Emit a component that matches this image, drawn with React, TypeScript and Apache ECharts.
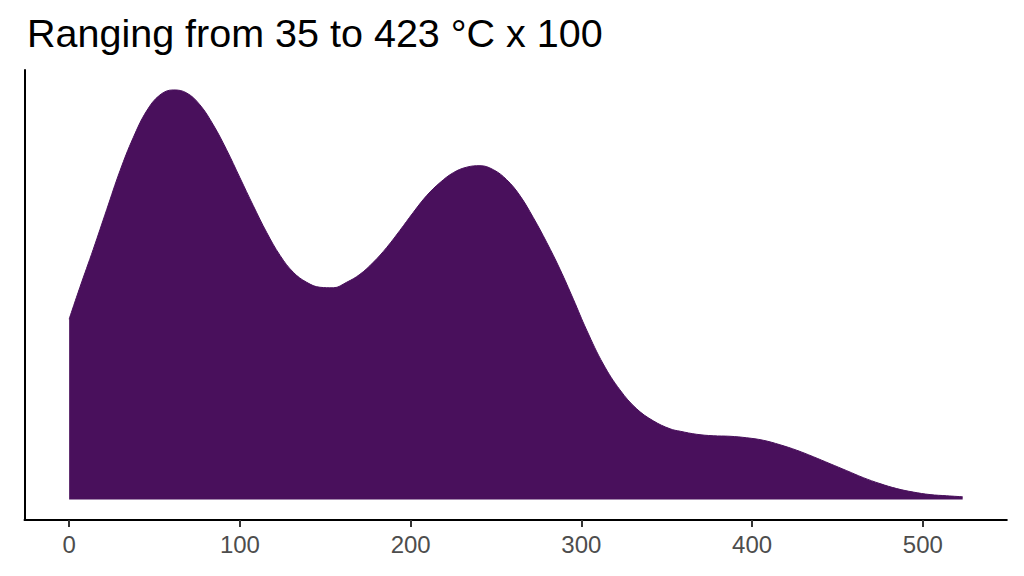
import React, { useEffect, useRef } from "react";
import * as echarts from "echarts";

const titleText = "Ranging from 35 to 423 °C x 100";
const xValues = [
  0, 6.3, 14.1, 22, 29.8, 37.5, 45.4, 53.2, 61, 68.8, 76.6, 84.4, 92.2, 100,
  107.8, 115.7, 123.5, 131.3, 139.1, 146.9, 154.7, 162.5, 170.3, 178.1, 186,
  193.7, 201.5, 209.4, 217.2, 225, 232.8, 240.6, 248.4, 256.2, 264, 271.8,
  279.7, 287.5, 295.3, 303.1, 312.8, 322.6, 332.4, 342.1, 351.9, 358, 367.5,
  377.2, 387, 396.8, 406.5, 416.3, 426.1, 435.8, 445.6, 455.4, 465.1, 474.9,
  484.7, 494.4, 504.2, 513.9, 523.3,
];
const densityValues = [
  1.81, 2.13, 2.51, 2.91, 3.3, 3.63, 3.9, 4.06, 4.11, 4.08, 3.96, 3.76, 3.51,
  3.23, 2.95, 2.68, 2.45, 2.28, 2.18, 2.13, 2.125, 2.18, 2.26, 2.38, 2.53, 2.7,
  2.88, 3.05, 3.18, 3.28, 3.335, 3.35, 3.31, 3.21, 3.05, 2.83, 2.58, 2.31,
  2.01, 1.7, 1.36, 1.1, 0.91, 0.79, 0.71, 0.685, 0.655, 0.64, 0.635, 0.62,
  0.595, 0.55, 0.495, 0.43, 0.36, 0.29, 0.22, 0.16, 0.11, 0.075, 0.05, 0.038,
  0.028,
];
const tickValues = [0, 100, 200, 300, 400, 500];

const FILL = "#49105c";
const FONT = "Liberation Sans, Arial, sans-serif";

export default function App() {
  const ref = useRef<HTMLDivElement>(null);
  useEffect(() => {
    if (!ref.current) return;
    const chart = echarts.init(ref.current, undefined, { renderer: "svg" });
    const data = xValues.map((x, i) => [x, densityValues[i]]);
    chart.setOption({
      animation: false,
      backgroundColor: "#ffffff",
      title: {
        text: titleText,
        left: 22,
        top: 8,
        textStyle: {
          fontFamily: FONT,
          fontSize: 39.5,
          fontWeight: "normal",
          color: "#000000",
        },
      },
      grid: { left: 24.5, right: 17.2, top: 70, bottom: 56 },
      xAxis: {
        type: "value",
        min: -26.15,
        max: 549.15,
        axisLine: {
          show: true,
          onZero: false,
          lineStyle: { color: "#000000", width: 2 },
        },
        axisTick: {
          show: true,
          length: 7,
          customValues: tickValues,
          lineStyle: { color: "#333333", width: 2 },
        },
        axisLabel: {
          show: true,
          customValues: tickValues,
          margin: 12,
          fontFamily: FONT,
          fontSize: 24,
          color: "#4d4d4d",
        },
        splitLine: { show: false },
      },
      yAxis: {
        type: "value",
        min: -0.205,
        max: 4.31,
        axisLine: {
          show: true,
          onZero: false,
          lineStyle: { color: "#000000", width: 2 },
        },
        axisTick: { show: false },
        axisLabel: { show: false },
        splitLine: { show: false },
      },
      series: [
        {
          type: "line",
          data,
          smooth: 0.4,
          showSymbol: false,
          lineStyle: { color: FILL, width: 1 },
          areaStyle: { color: FILL, opacity: 1, origin: 0 },
          itemStyle: { color: FILL },
        },
      ],
    });
    return () => chart.dispose();
  }, []);
  return (
    <div
      ref={ref}
      style={{ position: "fixed", left: 0, top: 0, width: 1024, height: 576 }}
    />
  );
}
